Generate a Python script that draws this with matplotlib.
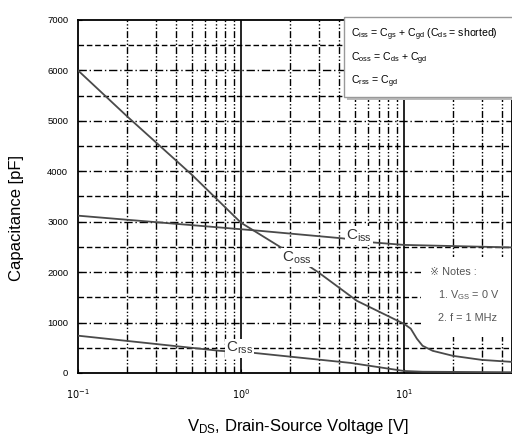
import matplotlib
matplotlib.use("Agg")
import matplotlib.pyplot as plt
from matplotlib.patches import Rectangle
from matplotlib.ticker import FixedLocator, NullFormatter

plt.rcParams['font.family'] = ['Liberation Sans', 'DejaVu Sans']

# Data
coss_v = [0.1, 0.2, 0.5, 1.0, 1.8, 3.0, 5.15, 10, 11, 12, 13, 15, 20, 30, 46]
coss_c = [6000, 5090, 3930, 2980, 2470, 1990, 1430, 975, 880, 680, 540, 440, 340, 260, 220]
ciss_v = [0.1, 1.3, 4.2, 6.4, 10, 46]
ciss_c = [3120, 2820, 2670, 2590, 2540, 2490]
crss_v = [0.1, 0.74, 1.19, 4.7, 10, 13, 46]
crss_c = [740, 440, 400, 200, 40, 25, 15]

y_ticks = [0, 1000, 2000, 3000, 4000, 5000, 6000, 7000]
x_ticks = [0.1, 1, 10]
x_ticklabels = ['$10^{-1}$', '$10^{0}$', '$10^{1}$']

fig = plt.figure(figsize=(5.12, 4.38), dpi=100)
ax = fig.add_axes([78/512, (438-373)/438, (512-78)/512, (373-20)/438])
ax.set_xscale('log')
ax.set_xlim(0.1, 46)
ax.set_ylim(0, 7000)

# grid lines
for y in range(500, 7000, 500):
    if y % 1000 == 0:
        ax.axhline(y, color='black', lw=1.0, ls=(0, (6, 2, 1, 2)), zorder=1)
    else:
        ax.axhline(y, color='black', lw=1.0, ls=(0, (4, 2)), zorder=1)
for dec in [0.1, 1, 10]:
    for m in range(2, 10):
        xv = dec * m
        if xv < 46:
            ax.axvline(xv, color='black', lw=1.0, ls=(0, (5, 1.5, 1, 1.5, 1, 1.5)), zorder=1)
for xv in [1, 10]:
    ax.axvline(xv, color='black', lw=1.2, zorder=1)

# white area behind the notes
ax.add_patch(Rectangle((421/512, (438-337)/438), 91/512, 80/438,
                       transform=fig.transFigure, facecolor='white',
                       edgecolor='none', zorder=2))

lc = '#4a4a4a'
ax.plot(coss_v, coss_c, color=lc, lw=1.3, zorder=3)
ax.plot(ciss_v, ciss_c, color=lc, lw=1.3, zorder=3)
ax.plot(crss_v, crss_c, color=lc, lw=1.3, zorder=3)

bb = dict(facecolor='white', edgecolor='none', pad=1.0)
ax.text(5.3, 2720, '$\\mathregular{C_{iss}}$', fontsize=11, color='#333333',
        ha='center', va='center', bbox=bb, zorder=4)
ax.text(2.2, 2290, '$\\mathregular{C_{oss}}$', fontsize=11, color='#333333',
        ha='center', va='center', bbox=bb, zorder=4)
ax.text(0.98, 490, '$\\mathregular{C_{rss}}$', fontsize=11, color='#333333',
        ha='center', va='center', bbox=bb, zorder=4)

# legend box
fig.patches.append(Rectangle((347/512, (438-100)/438), 170/512, 81/438,
                             transform=fig.transFigure, facecolor='#bbbbbb',
                             edgecolor='none', zorder=5))
fig.patches.append(Rectangle((344/512, (438-97)/438), 170/512, 80/438,
                             transform=fig.transFigure, facecolor='white',
                             edgecolor='#999999', lw=1.0, zorder=6))
fig.text(351/512, (438-35)/438,
         '$\\mathregular{C_{iss}}$ = $\\mathregular{C_{gs}}$ + $\\mathregular{C_{gd}}$ ($\\mathregular{C_{ds}}$ = shorted)',
         fontsize=7.6, ha='left', va='center', zorder=7)
fig.text(351/512, (438-59)/438,
         '$\\mathregular{C_{oss}}$ = $\\mathregular{C_{ds}}$ + $\\mathregular{C_{gd}}$',
         fontsize=7.6, ha='left', va='center', zorder=7)
fig.text(351/512, (438-82)/438,
         '$\\mathregular{C_{rss}}$ = $\\mathregular{C_{gd}}$',
         fontsize=7.6, ha='left', va='center', zorder=7)

# notes
fig.text(430/512, (438-272)/438, '※ Notes :', fontsize=7.8, color='#555555',
         ha='left', va='center', zorder=7)
fig.text(438/512, (438-295)/438, '1. $\\mathregular{V_{GS}}$ = 0 V', fontsize=7.8,
         color='#555555', ha='left', va='center', zorder=7)
fig.text(438/512, (438-318)/438, '2. f = 1 MHz', fontsize=7.8, color='#555555',
         ha='left', va='center', zorder=7)

ax.set_yticks(y_ticks)
ax.set_yticklabels([str(t) for t in y_ticks], fontsize=6.8)
ax.xaxis.set_major_locator(FixedLocator(x_ticks))
ax.set_xticklabels(x_ticklabels, fontsize=7)
ax.xaxis.set_minor_formatter(NullFormatter())
ax.tick_params(axis='both', which='both', direction='in', length=3, pad=7)
ax.tick_params(axis='x', pad=10)
for s in ax.spines.values():
    s.set_linewidth(1.3)

fig.text(17/512, (438-218)/438, 'Capacitance [pF]', fontsize=12, rotation=90,
         ha='center', va='center')
fig.text(298/512, (438-426)/438, '$\\mathregular{V_{DS}}$, Drain-Source Voltage [V]',
         fontsize=12, ha='center', va='center')

fig.savefig('out.png', dpi=100)
